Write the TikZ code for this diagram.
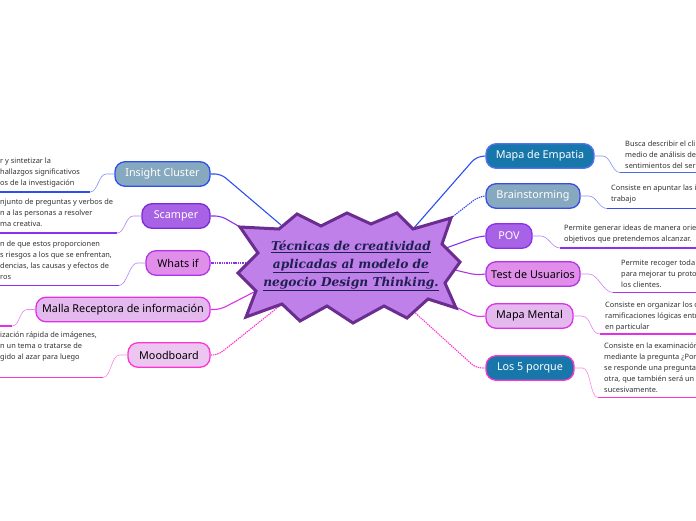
\documentclass[tikz,border=0pt]{standalone}
\usepackage{fontspec}
\setmainfont{Noto Sans}
\newfontfamily\titlefont{DejaVu Serif}
\usetikzlibrary{calc}
\definecolor{cblue}{HTML}{1776AA}
\definecolor{cgrey}{HTML}{87A9BF}
\definecolor{cpurp}{HTML}{A862E6}
\definecolor{cpink}{HTML}{E08EE9}
\definecolor{clpink}{HTML}{E4B9EE}
\definecolor{cllpink}{HTML}{ECC6F1}
\definecolor{lblue}{HTML}{2D4FF0}
\definecolor{lblueb}{HTML}{3B4CE6}
\definecolor{lpurp}{HTML}{8A30EE}
\definecolor{lviol}{HTML}{B035E8}
\definecolor{lmag}{HTML}{E030E8}
\definecolor{lpink}{HTML}{FF35D0}
\definecolor{starfill}{HTML}{BF80EA}
\definecolor{stardraw}{HTML}{6B2D8F}
\definecolor{titlecol}{HTML}{1E2050}
\definecolor{desccol}{HTML}{333333}
\begin{document}
\begin{tikzpicture}[x=1pt,y=-1pt,
  topic/.style={draw, rounded corners=10pt, minimum height=24.5pt, line width=1.3pt,
    font=\fontsize{10.8}{12}\selectfont, inner xsep=4pt, inner ysep=0pt},
  wtxt/.style={text=white},
  desc/.style={anchor=north west, inner sep=0pt, align=left, text=desccol,
    font=\fontsize{7.4}{10.8}\selectfont},
  conn/.style={line width=1.1pt, rounded corners=6pt},
  dots/.style={dash pattern=on 1.4pt off 0.9pt},
  curve/.style={line width=0.6pt},
  uline/.style={line width=1.6pt}]
\useasboundingbox (0,0) rectangle (696,520);
\fill[white] (0,0) rectangle (696,520);

% star points
\coordinate (s1) at (240,227);
\coordinate (s2) at (279,229);
\coordinate (s3) at (297,214);
\coordinate (s4) at (321,226);
\coordinate (s5) at (347,213);
\coordinate (s6) at (371,224);
\coordinate (s7) at (397,213);
\coordinate (s8) at (413,229);
\coordinate (s9) at (451,218);
\coordinate (s10) at (442,244);
\coordinate (s11) at (460,262);
\coordinate (s12) at (445,283);
\coordinate (s13) at (456,308);
\coordinate (s14) at (428,299);
\coordinate (s15) at (407,318);
\coordinate (s16) at (384,306);
\coordinate (s17) at (353,323);
\coordinate (s18) at (327,306);
\coordinate (s19) at (300,321);
\coordinate (s20) at (282,304);
\coordinate (s21) at (246,317);
\coordinate (s22) at (256,291);
\coordinate (s23) at (238,273);
\coordinate (s24) at (258,253);

% topic nodes right
\node[topic, wtxt, fill=cblue, draw=lblue!80, minimum width=108pt] (mde) at (540,156) {Mapa de Empatia};
\node[topic, wtxt, fill=cgrey, draw=lblueb, minimum width=94pt] (brs) at (533,196) {Brainstorming};
\node[topic, wtxt, fill=cpurp, draw=lpurp, minimum width=46pt] (pov) at (509,236) {POV};
\node[topic, fill=cpink, draw=lviol, minimum width=94pt] (tdu) at (533,274) {Test de Usuarios};
\node[topic, fill=clpink, draw=lmag, minimum width=87pt] (mm) at (529.5,316) {Mapa Mental};
\node[topic, wtxt, fill=cblue, draw=lpink, minimum width=88pt] (l5p) at (530,368) {Los 5 porque};
% topic nodes left
\node[topic, wtxt, fill=cgrey, draw=lblue, minimum width=95pt] (ic) at (162.5,174) {Insight Cluster};
\node[topic, wtxt, fill=cpurp, draw=lpurp!90!black, minimum width=68pt] (sc) at (176,216) {Scamper};
\node[topic, fill=cpink, draw=lviol, minimum width=64pt] (wi) at (178,263) {Whats if};
\node[topic, fill=clpink, draw=lmag, minimum width=174pt] (mr) at (123,309.5) {Malla Receptora de información};
\node[topic, fill=cllpink, draw=lpink, minimum width=82pt] (mb) at (169,355) {Moodboard};

% connectors from centre
\draw[conn, lblue] (s8) -- (476,157) -- (mde.west);
\draw[conn, lblueb, dots] (s9) -- (478,197) -- (brs.west);
\draw[conn, lpurp] (s10) ++(4,4) -- (477,237) -- (pov.west);
\draw[conn, lviol] (455,270) -- (476,275) -- (tdu.west);
\draw[conn, lmag] (s13) ++(-2,-2) -- (476,317) -- (mm.west);
\draw[conn, lpink, dots] (412,310) -- (476,368) -- (l5p.west);
\draw[conn, lblue] (s2) ++(2,-4) -- (221,174) -- (ic.east);
\draw[conn, lpurp] (s1) -- (221,216) -- (sc.east);
\draw[conn, lpurp, dots] (s24) ++(-12,10) -- (wi.east);
\draw[conn, lmag] (s22) -- (220,309.5) -- (mr.east);
\draw[conn, lpink, dots] (s20) -- (218,355) -- (mb.east);

% star
\draw[line width=3pt, draw=stardraw, fill=starfill, line join=miter, miter limit=6]
  (s1) -- (s2) -- (s3) -- (s4) -- (s5) -- (s6) -- (s7) -- (s8) -- (s9) -- (s10) -- (s11) -- (s12)
  -- (s13) -- (s14) -- (s15) -- (s16) -- (s17) -- (s18) -- (s19) -- (s20) -- (s21) -- (s22)
  -- (s23) -- (s24) -- cycle;
\node[align=center, text=titlecol, font=\titlefont\bfseries\itshape\fontsize{12.2}{18}\selectfont] (title) at (351,266)
  {\underline{Técnicas de creatividad}\\\underline{aplicadas al modelo de}\\\underline{negocio Design Thinking.}};

% description underlines: coordinates
\coordinate (mdeA) at (620,172.5); \coordinate (mdeB) at (696,172.5);
\coordinate (brsA) at (607,208.5); \coordinate (brsB) at (696,208.5);
\coordinate (povA) at (560,248); \coordinate (povB) at (696,248);
\coordinate (tduA) at (613,292.5); \coordinate (tduB) at (696,292.5);
\coordinate (mmA) at (600,334); \coordinate (mmB) at (696,334);
\coordinate (l5pA) at (598,397.5); \coordinate (l5pB) at (696,397.5);
\coordinate (icA) at (90,192); \coordinate (icB) at (0,192);
\coordinate (scA) at (117,233); \coordinate (scB) at (0,233);
\coordinate (wiA) at (119,285.5); \coordinate (wiB) at (0,285.5);
\coordinate (mrA) at (12,326); \coordinate (mrB) at (0,326);
\coordinate (mbA) at (103,377.5); \coordinate (mbB) at (0,377.5);

\draw[curve, lblue!60] (mde.east) -- ++(8,0) .. controls +(8,0) and +(-8,0) .. (mdeA);
\draw[uline, lblue!85] (mdeA) -- (mdeB);
\draw[curve, lblueb!60] (brs.east) -- ++(8,0) .. controls +(8,0) and +(-8,0) .. (brsA);
\draw[uline, lblueb] (brsA) -- (brsB);
\draw[curve, lpurp!60] (pov.east) -- ++(8,0) .. controls +(8,0) and +(-8,0) .. (povA);
\draw[uline, lpurp] (povA) -- (povB);
\draw[curve, lviol!60] (tdu.east) -- ++(8,0) .. controls +(10,0) and +(-10,0) .. (tduA);
\draw[uline, lviol] (tduA) -- (tduB);
\draw[curve, lmag!60] (mm.east) -- ++(8,0) .. controls +(10,0) and +(-10,0) .. (mmA);
\draw[uline, lmag] (mmA) -- (mmB);
\draw[curve, lpink!60] (l5p.east) -- ++(8,0) .. controls +(8,0) and +(-8,0) .. (l5pA);
\draw[uline, lpink] (l5pA) -- (l5pB);

\draw[curve, lblue!60] (ic.west) -- ++(-8,0) .. controls +(-8,0) and +(8,0) .. (icA);
\draw[uline, lblue] (icA) -- (icB);
\draw[curve, lpurp!60] (sc.west) -- ++(-8,0) .. controls +(-8,0) and +(8,0) .. (scA);
\draw[uline, lpurp] (scA) -- (scB);
\draw[curve, lpurp!60] (wi.west) -- ++(-8,0) .. controls +(-8,0) and +(8,0) .. (wiA);
\draw[uline, lpurp] (wiA) -- (wiB);
\draw[curve, lmag!60] (mr.west) -- ++(-8,0) .. controls +(-8,0) and +(8,0) .. (mrA);
\draw[uline, lmag] (mrA) -- (mrB);
\draw[curve, lpink!60] (mb.west) -- ++(-8,0) .. controls +(-8,0) and +(8,0) .. (mbA);
\draw[uline, lpink] (mbA) -- (mbB);

% description texts
\node[desc] (mdeT) at (625,141) {Busca describir el cli\\medio de análisis de\\sentimientos del ser};
\node[desc] (brsT) at (611,185) {Consiste en apuntar las i\\trabajo};
\node[desc] (povT) at (564,225) {Permite generar ideas de manera orie\\objetivos que pretendemos alcanzar.};
\node[desc] (tduT) at (621,260) {Permite recoger toda\\para mejorar tu proto\\los clientes.};
\node[desc] (mmT) at (605,302) {Consiste en organizar los c\\ramificaciones lógicas entr\\en particular};
\node[desc] (l5pT) at (604,343) {Consiste en la examinación\\mediante la pregunta ¿Por\\se responde una pregunta\\otra, que también será un\\sucesivamente.};
\node[desc] (icT) at (0,158) {r y sintetizar la\\hallazgos significativos\\os de la investigación};
\node[desc] (scT) at (0,199) {njunto de preguntas y verbos de\\n a las personas a resolver\\ma creativa.};
\node[desc] (wiT) at (0,241) {n de que estos proporcionen\\s riesgos a los que se enfrentan,\\dencias, las causas y efectos de\\ros};
\node[desc] (mbT) at (0,332) {ización rápida de imágenes,\\n un tema o tratarse de\\gido al azar para luego};
\end{tikzpicture}
\end{document}
